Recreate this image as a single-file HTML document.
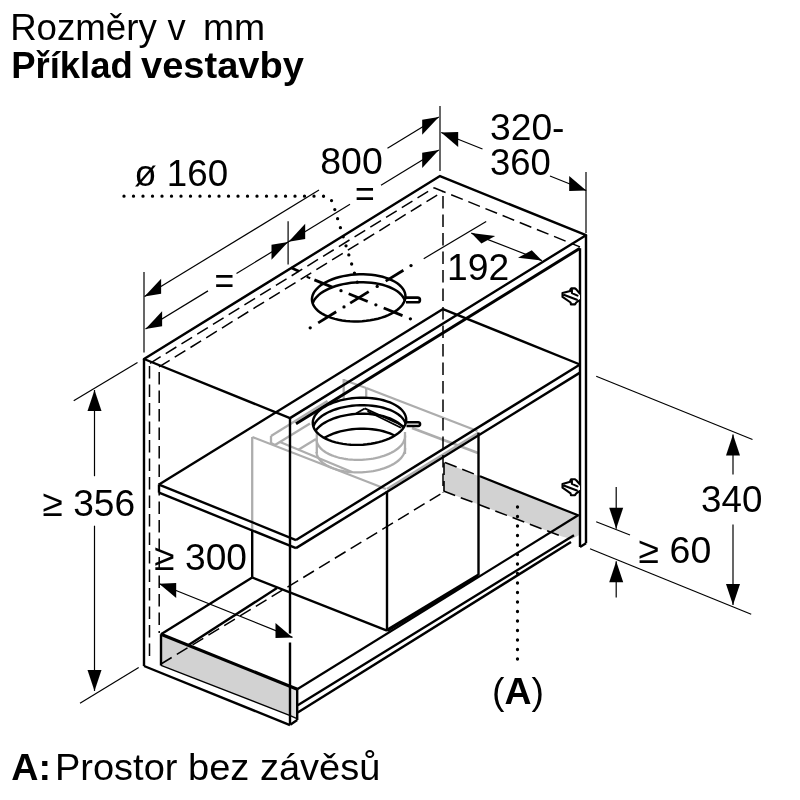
<!DOCTYPE html>
<html lang="cs"><head><meta charset="utf-8"><title>Rozměry v mm</title>
<style>html,body{margin:0;padding:0;background:#fff}svg{display:block;will-change:transform}text{font-family:"Liberation Sans",sans-serif;fill:#000}</style>
</head><body>
<svg width="800" height="800" viewBox="0 0 800 800">
<rect width="800" height="800" fill="#fff"/>
<path d="M161 634.2 L297.3 689.3 L297.3 720 L290.2 715.6 L161 665.3 Z" fill="#d2d2d2"/>
<path d="M290.2 686.5 L297.3 689.3 L297.3 720 L290.2 715.6 Z" fill="#e0e0e0"/>
<path d="M444 462.5 L578.7 515.6 L579.2 535 L572 539 L562 536.5 L443.5 491 Z" fill="#d2d2d2"/>
<path d="M316.52 439.44 L316.63 440.61 L316.87 441.76 L317.22 442.9 L317.69 444.03 L318.29 445.14 L318.99 446.23 L319.82 447.3 L320.75 448.34 L321.8 449.35 L322.95 450.32 L324.21 451.27 L325.56 452.17 L327.01 453.03 L328.56 453.86 L330.19 454.63 L331.91 455.36 L333.71 456.04 L335.58 456.67 L337.52 457.25 L339.52 457.77 L341.58 458.24 L343.7 458.65 L345.86 459 L348.06 459.29 L350.3 459.53 L352.57 459.7 L354.86 459.81 L357.16 459.87 L359.48 459.86 L361.8 459.79 L364.11 459.65 L366.42 459.46 L368.71 459.21 L370.98 458.89 L373.22 458.52 L375.43 458.09 L377.6 457.61 L379.72 457.07 L381.79 456.47 L383.8 455.83 L385.75 455.13 L387.63 454.39 L389.44 453.6 L391.17 452.76 L392.82 451.89 L394.37 450.97 L395.84 450.02 L397.21 449.03 L398.48 448.01 L399.65 446.96 L400.71 445.89 L401.66 444.79 L402.5 443.67 L403.22 442.54 L403.83 441.39 L404.32 440.23 L404.69 439.07 L404.94 437.9 L405.07 436.73 L405.08 435.56" fill="none" stroke="#adadad" stroke-width="2.3"/>
<path d="M316.52 451.94 L316.63 453.11 L316.87 454.26 L317.22 455.4 L317.69 456.53 L318.29 457.64 L318.99 458.73 L319.82 459.8 L320.75 460.84 L321.8 461.85 L322.95 462.82 L324.21 463.77 L325.56 464.67 L327.01 465.53 L328.56 466.36 L330.19 467.13 L331.91 467.86 L333.71 468.54 L335.58 469.17 L337.52 469.75 L339.52 470.27 L341.58 470.74 L343.7 471.15 L345.86 471.5 L348.06 471.79 L350.3 472.03 L352.57 472.2 L354.86 472.31 L357.16 472.37 L359.48 472.36 L361.8 472.29 L364.11 472.15 L366.42 471.96 L368.71 471.71 L370.98 471.39 L373.22 471.02 L375.43 470.59 L377.6 470.11 L379.72 469.57 L381.79 468.97 L383.8 468.33 L385.75 467.63 L387.63 466.89 L389.44 466.1 L391.17 465.26 L392.82 464.39 L394.37 463.47 L395.84 462.52 L397.21 461.53 L398.48 460.51 L399.65 459.46 L400.71 458.39 L401.66 457.29 L402.5 456.17 L403.22 455.04 L403.83 453.89 L404.32 452.73 L404.69 451.57 L404.94 450.4 L405.07 449.23 L405.08 448.06" fill="none" stroke="#adadad" stroke-width="2.3"/>
<line x1="316.8" y1="432" x2="316.8" y2="453" stroke="#adadad" stroke-width="2.3"/>
<line x1="405" y1="432" x2="405" y2="454" stroke="#adadad" stroke-width="2.3"/>
<line x1="252.2" y1="437" x2="252.2" y2="530" stroke="#adadad" stroke-width="2.3"/>
<line x1="252.4" y1="437" x2="386" y2="489" stroke="#adadad" stroke-width="2.3"/>
<line x1="271" y1="436" x2="271" y2="443" stroke="#adadad" stroke-width="2.3"/>
<line x1="271" y1="436" x2="327.5" y2="401" stroke="#adadad" stroke-width="2.3"/>
<line x1="275" y1="445" x2="310" y2="423.5" stroke="#adadad" stroke-width="2.3"/>
<line x1="271" y1="443" x2="275" y2="445" stroke="#adadad" stroke-width="2.3"/>
<line x1="280" y1="442" x2="352" y2="472" stroke="#adadad" stroke-width="2.3"/>
<line x1="298" y1="450" x2="316" y2="439" stroke="#adadad" stroke-width="2.3"/>
<line x1="343.7" y1="379" x2="343.7" y2="400" stroke="#adadad" stroke-width="2.3"/>
<line x1="343.7" y1="380" x2="366.2" y2="388" stroke="#adadad" stroke-width="2.3"/>
<line x1="366.2" y1="388" x2="366.2" y2="407" stroke="#adadad" stroke-width="2.3"/>
<line x1="366.2" y1="388" x2="477.5" y2="431" stroke="#adadad" stroke-width="2.3"/>
<line x1="412" y1="428" x2="478" y2="453" stroke="#adadad" stroke-width="2.8"/>
<line x1="387" y1="489" x2="478" y2="433" stroke="#adadad" stroke-width="2.3"/>
<path d="M144 359 L440 176.07 L586 235.2 L290 418.13 Z" fill="none" stroke="#000" stroke-width="2.4" stroke-linejoin="round"/>
<line x1="144" y1="359" x2="144" y2="666" stroke="#000" stroke-width="2.4"/>
<line x1="144" y1="666" x2="290" y2="725.13" stroke="#000" stroke-width="2.4"/>
<line x1="290" y1="418.13" x2="290" y2="633.5" stroke="#000" stroke-width="2.4"/>
<line x1="290" y1="642.5" x2="290" y2="724" stroke="#000" stroke-width="2.4"/>
<line x1="586" y1="235.2" x2="586" y2="543.2" stroke="#000" stroke-width="2.4"/>
<line x1="580" y1="248.21" x2="580" y2="546.91" stroke="#000" stroke-width="2.4"/>
<line x1="580" y1="546.91" x2="586" y2="543.2" stroke="#000" stroke-width="2.4"/>
<line x1="296" y1="423.72" x2="580" y2="248.21" stroke="#000" stroke-width="3"/>
<line x1="150" y1="363.29" x2="434" y2="187.78" stroke="#000" stroke-width="1.5" stroke-dasharray="12.5 6"/>
<line x1="159" y1="366.94" x2="443" y2="191.43" stroke="#000" stroke-width="1.5" stroke-dasharray="12.5 6"/>
<line x1="434" y1="187.78" x2="580" y2="246.91" stroke="#000" stroke-width="1.5" stroke-dasharray="12.5 6"/>
<line x1="149.5" y1="366" x2="149.5" y2="662" stroke="#000" stroke-width="1.5" stroke-dasharray="12.5 6"/>
<line x1="159.2" y1="372" x2="159.2" y2="633" stroke="#000" stroke-width="1.5" stroke-dasharray="12.5 6"/>
<line x1="443" y1="196" x2="443" y2="492.5" stroke="#000" stroke-width="1.5" stroke-dasharray="12.5 6"/>
<line x1="161" y1="664" x2="443" y2="492.5" stroke="#000" stroke-width="1.5" stroke-dasharray="12.5 6"/>
<line x1="159" y1="484.54" x2="443" y2="309.02" stroke="#000" stroke-width="2.4"/>
<line x1="159" y1="484.54" x2="296" y2="540.02" stroke="#000" stroke-width="2.4"/>
<line x1="159" y1="492.64" x2="296" y2="548.12" stroke="#000" stroke-width="2.4"/>
<line x1="159" y1="484.54" x2="159" y2="492.64" stroke="#000" stroke-width="2.4"/>
<line x1="296" y1="540.02" x2="580" y2="364.51" stroke="#000" stroke-width="2.4"/>
<line x1="296" y1="548.12" x2="580" y2="372.61" stroke="#000" stroke-width="2.4"/>
<line x1="443" y1="309.02" x2="580" y2="364.51" stroke="#000" stroke-width="2.4"/>
<line x1="161" y1="634.2" x2="161" y2="665.5" stroke="#000" stroke-width="2.4"/>
<line x1="161" y1="634.2" x2="297.3" y2="689.3" stroke="#000" stroke-width="3.2"/>
<line x1="161" y1="665.3" x2="290.2" y2="715.6" stroke="#000" stroke-width="1.3"/>
<line x1="290.2" y1="715.6" x2="297" y2="718.6" stroke="#000" stroke-width="1.3"/>
<line x1="297.2" y1="689.3" x2="297.2" y2="720" stroke="#000" stroke-width="2.4"/>
<line x1="290.2" y1="724.7" x2="297.2" y2="720" stroke="#000" stroke-width="2.4"/>
<line x1="297.2" y1="689.3" x2="578.5" y2="515" stroke="#000" stroke-width="2.2"/>
<line x1="297.7" y1="705.3" x2="574" y2="535.2" stroke="#000" stroke-width="2.4"/>
<line x1="297.7" y1="712.4" x2="571" y2="542" stroke="#000" stroke-width="2.4"/>
<line x1="161" y1="634.2" x2="252.2" y2="577.5" stroke="#000" stroke-width="2.4"/>
<line x1="188.5" y1="645" x2="277" y2="588" stroke="#000" stroke-width="2.4"/>
<line x1="252.2" y1="530" x2="252.2" y2="577.5" stroke="#000" stroke-width="2.4"/>
<line x1="252.2" y1="577.5" x2="387" y2="630.7" stroke="#000" stroke-width="2.4"/>
<line x1="387" y1="491" x2="387" y2="630.7" stroke="#000" stroke-width="2.4"/>
<line x1="387" y1="630.5" x2="478.5" y2="575.3" stroke="#000" stroke-width="3.6"/>
<line x1="478.5" y1="432.5" x2="478.5" y2="575.5" stroke="#000" stroke-width="2.4"/>
<line x1="445" y1="462.5" x2="480" y2="476.3" stroke="#000" stroke-width="1.6" stroke-dasharray="12.5 6"/>
<line x1="480" y1="476.3" x2="578.7" y2="515.6" stroke="#000" stroke-width="2.2"/>
<line x1="443.5" y1="491" x2="562" y2="536.5" stroke="#000" stroke-width="1.6" stroke-dasharray="12.5 6"/>
<line x1="444" y1="462.5" x2="444" y2="491" stroke="#000" stroke-width="1.6" stroke-dasharray="12.5 6"/>
<path d="M580 293.75 L576.25 289.4 L575 288.4 L571.25 288.4 L570.3 289.7 L570.3 290.9 L562.5 293.1 L562.5 296.9 L570.6 302.5 L570.9 304.4 L575 304.4 L576.25 302.5 L580 300 M564.4 295 L576.9 299.7 M571.9 290 L571.9 293.1 L577.5 295.6" fill="#fff" stroke="#000" stroke-width="2.1" stroke-linejoin="round" stroke-linecap="round"/>
<path d="M580 484.55 L576.25 480.2 L575 479.2 L571.25 479.2 L570.3 480.5 L570.3 481.7 L562.5 483.9 L562.5 487.7 L570.6 493.3 L570.9 495.2 L575 495.2 L576.25 493.3 L580 490.8 M564.4 485.8 L576.9 490.5 M571.9 480.8 L571.9 483.9 L577.5 486.4" fill="#fff" stroke="#000" stroke-width="2.1" stroke-linejoin="round" stroke-linecap="round"/>
<clipPath id="holeclip"><path d="M389.19 279 L392.16 280.31 L394.88 281.76 L397.32 283.32 L399.47 285 L401.31 286.77 L402.82 288.63 L404 290.56 L404.83 292.55 L405.31 294.57 L405.44 296.62 L405.21 298.68 L404.63 300.74 L403.7 302.77 L402.42 304.76 L400.82 306.7 L398.89 308.57 L396.65 310.37 L394.13 312.06 L391.34 313.65 L388.3 315.12 L385.03 316.46 L381.57 317.65 L377.93 318.7 L374.14 319.58 L370.24 320.3 L366.25 320.85 L362.2 321.23 L358.12 321.43 L354.05 321.44 L350.01 321.28 L346.04 320.94 L342.17 320.42 L338.42 319.74 L334.83 318.88 L331.42 317.87 L328.21 316.7 L325.24 315.39 L322.52 313.94 L320.08 312.38 L317.93 310.7 L316.09 308.93 L314.58 307.07 L313.4 305.14 L312.57 303.15 L312.09 301.13 L311.96 299.08 L312.19 297.02 L312.77 294.96 L313.7 292.93 L314.98 290.94 L316.58 289 L318.51 287.13 L320.75 285.33 L323.27 283.64 L326.06 282.05 L329.1 280.58 L332.37 279.24 L335.83 278.05 L339.47 277 L343.26 276.12 L347.16 275.4 L351.15 274.85 L355.2 274.47 L359.28 274.27 L363.35 274.26 L367.39 274.42 L371.36 274.76 L375.23 275.28 L378.98 275.96 L382.57 276.82 L385.98 277.83 L389.19 279 Z"/></clipPath>
<path d="M405.5 297.6 L417.6 297.6 A2.35 2.35 0 0 1 417.6 302.3 L406 302.3" fill="none" stroke="#000" stroke-width="2.6"/>
<path d="M389.19 279 L392.16 280.31 L394.88 281.76 L397.32 283.32 L399.47 285 L401.31 286.77 L402.82 288.63 L404 290.56 L404.83 292.55 L405.31 294.57 L405.44 296.62 L405.21 298.68 L404.63 300.74 L403.7 302.77 L402.42 304.76 L400.82 306.7 L398.89 308.57 L396.65 310.37 L394.13 312.06 L391.34 313.65 L388.3 315.12 L385.03 316.46 L381.57 317.65 L377.93 318.7 L374.14 319.58 L370.24 320.3 L366.25 320.85 L362.2 321.23 L358.12 321.43 L354.05 321.44 L350.01 321.28 L346.04 320.94 L342.17 320.42 L338.42 319.74 L334.83 318.88 L331.42 317.87 L328.21 316.7 L325.24 315.39 L322.52 313.94 L320.08 312.38 L317.93 310.7 L316.09 308.93 L314.58 307.07 L313.4 305.14 L312.57 303.15 L312.09 301.13 L311.96 299.08 L312.19 297.02 L312.77 294.96 L313.7 292.93 L314.98 290.94 L316.58 289 L318.51 287.13 L320.75 285.33 L323.27 283.64 L326.06 282.05 L329.1 280.58 L332.37 279.24 L335.83 278.05 L339.47 277 L343.26 276.12 L347.16 275.4 L351.15 274.85 L355.2 274.47 L359.28 274.27 L363.35 274.26 L367.39 274.42 L371.36 274.76 L375.23 275.28 L378.98 275.96 L382.57 276.82 L385.98 277.83 L389.19 279 Z" fill="none" stroke="#000" stroke-width="2.5"/>
<path d="M389.19 287 L392.16 288.31 L394.88 289.76 L397.32 291.32 L399.47 293 L401.31 294.77 L402.82 296.63 L404 298.56 L404.83 300.55 L405.31 302.57 L405.44 304.62 L405.21 306.68 L404.63 308.74 L403.7 310.77 L402.42 312.76 L400.82 314.7 L398.89 316.57 L396.65 318.37 L394.13 320.06 L391.34 321.65 L388.3 323.12 L385.03 324.46 L381.57 325.65 L377.93 326.7 L374.14 327.58 L370.24 328.3 L366.25 328.85 L362.2 329.23 L358.12 329.43 L354.05 329.44 L350.01 329.28 L346.04 328.94 L342.17 328.42 L338.42 327.74 L334.83 326.88 L331.42 325.87 L328.21 324.7 L325.24 323.39 L322.52 321.94 L320.08 320.38 L317.93 318.7 L316.09 316.93 L314.58 315.07 L313.4 313.14 L312.57 311.15 L312.09 309.13 L311.96 307.08 L312.19 305.02 L312.77 302.96 L313.7 300.93 L314.98 298.94 L316.58 297 L318.51 295.13 L320.75 293.33 L323.27 291.64 L326.06 290.05 L329.1 288.58 L332.37 287.24 L335.83 286.05 L339.47 285 L343.26 284.12 L347.16 283.4 L351.15 282.85 L355.2 282.47 L359.28 282.27 L363.35 282.26 L367.39 282.42 L371.36 282.76 L375.23 283.28 L378.98 283.96 L382.57 284.82 L385.98 285.83 L389.19 287 Z" fill="none" stroke="#000" stroke-width="2.5" clip-path="url(#holeclip)"/>
<line x1="350.2" y1="303.1" x2="368.7" y2="291.67" stroke="#000" stroke-width="2.8"/>
<line x1="348.7" y1="293.8" x2="367.7" y2="301.5" stroke="#000" stroke-width="2.8"/>
<line x1="318.2" y1="322.88" x2="336.2" y2="311.75" stroke="#000" stroke-width="2.8"/>
<line x1="385.7" y1="281.16" x2="403.4" y2="270.23" stroke="#000" stroke-width="2.8"/>
<line x1="314.4" y1="279.91" x2="332.2" y2="287.12" stroke="#000" stroke-width="2.8"/>
<line x1="383.7" y1="307.98" x2="402.5" y2="315.59" stroke="#000" stroke-width="2.8"/>
<circle cx="310.2" cy="327.82" r="1.65"/>
<circle cx="344" cy="306.93" r="1.65"/>
<circle cx="377.2" cy="286.42" r="1.65"/>
<circle cx="411" cy="265.53" r="1.65"/>
<circle cx="341" cy="290.68" r="1.65"/>
<circle cx="375.9" cy="304.82" r="1.65"/>
<circle cx="410.4" cy="318.79" r="1.65"/>
<line x1="306.7" y1="276.79" x2="310.2" y2="278.21" stroke="#000" stroke-width="2"/>
<line x1="291.2" y1="267.8" x2="298.8" y2="271.2" stroke="#000" stroke-width="2.8"/>
<clipPath id="shelfclip"><path d="M389.99 402.45 L392.96 403.76 L395.68 405.21 L398.12 406.77 L400.27 408.45 L402.11 410.22 L403.62 412.08 L404.8 414.01 L405.63 416 L406.11 418.02 L406.24 420.07 L406.01 422.13 L405.43 424.19 L404.5 426.22 L403.22 428.21 L401.62 430.15 L399.69 432.02 L397.45 433.82 L394.93 435.51 L392.14 437.1 L389.1 438.57 L385.83 439.91 L382.37 441.1 L378.73 442.15 L374.94 443.03 L371.04 443.75 L367.05 444.3 L363 444.68 L358.92 444.88 L354.85 444.89 L350.81 444.73 L346.84 444.39 L342.97 443.87 L339.22 443.19 L335.63 442.33 L332.22 441.32 L329.01 440.15 L326.04 438.84 L323.32 437.39 L320.88 435.83 L318.73 434.15 L316.89 432.38 L315.38 430.52 L314.2 428.59 L313.37 426.6 L312.89 424.58 L312.76 422.53 L312.99 420.47 L313.57 418.41 L314.5 416.38 L315.78 414.39 L317.38 412.45 L319.31 410.58 L321.55 408.78 L324.07 407.09 L326.86 405.5 L329.9 404.03 L333.17 402.69 L336.63 401.5 L340.27 400.45 L344.06 399.57 L347.96 398.85 L351.95 398.3 L356 397.92 L360.08 397.72 L364.15 397.71 L368.19 397.87 L372.16 398.21 L376.03 398.73 L379.78 399.41 L383.37 400.27 L386.78 401.28 L389.99 402.45 Z"/></clipPath>
<path d="M406 422.2 L418.2 422.2 A1.9 1.9 0 0 1 418.2 426 L406.5 426" fill="none" stroke="#000" stroke-width="2.5"/>
<path d="M389.99 402.45 L392.96 403.76 L395.68 405.21 L398.12 406.77 L400.27 408.45 L402.11 410.22 L403.62 412.08 L404.8 414.01 L405.63 416 L406.11 418.02 L406.24 420.07 L406.01 422.13 L405.43 424.19 L404.5 426.22 L403.22 428.21 L401.62 430.15 L399.69 432.02 L397.45 433.82 L394.93 435.51 L392.14 437.1 L389.1 438.57 L385.83 439.91 L382.37 441.1 L378.73 442.15 L374.94 443.03 L371.04 443.75 L367.05 444.3 L363 444.68 L358.92 444.88 L354.85 444.89 L350.81 444.73 L346.84 444.39 L342.97 443.87 L339.22 443.19 L335.63 442.33 L332.22 441.32 L329.01 440.15 L326.04 438.84 L323.32 437.39 L320.88 435.83 L318.73 434.15 L316.89 432.38 L315.38 430.52 L314.2 428.59 L313.37 426.6 L312.89 424.58 L312.76 422.53 L312.99 420.47 L313.57 418.41 L314.5 416.38 L315.78 414.39 L317.38 412.45 L319.31 410.58 L321.55 408.78 L324.07 407.09 L326.86 405.5 L329.9 404.03 L333.17 402.69 L336.63 401.5 L340.27 400.45 L344.06 399.57 L347.96 398.85 L351.95 398.3 L356 397.92 L360.08 397.72 L364.15 397.71 L368.19 397.87 L372.16 398.21 L376.03 398.73 L379.78 399.41 L383.37 400.27 L386.78 401.28 L389.99 402.45 Z" fill="#fff" stroke="none"/>
<path d="M389.99 409.95 L392.96 411.26 L395.68 412.71 L398.12 414.27 L400.27 415.95 L402.11 417.72 L403.62 419.58 L404.8 421.51 L405.63 423.5 L406.11 425.52 L406.24 427.57 L406.01 429.63 L405.43 431.69 L404.5 433.72 L403.22 435.71 L401.62 437.65 L399.69 439.52 L397.45 441.32 L394.93 443.01 L392.14 444.6 L389.1 446.07 L385.83 447.41 L382.37 448.6 L378.73 449.65 L374.94 450.53 L371.04 451.25 L367.05 451.8 L363 452.18 L358.92 452.38 L354.85 452.39 L350.81 452.23 L346.84 451.89 L342.97 451.37 L339.22 450.69 L335.63 449.83 L332.22 448.82 L329.01 447.65 L326.04 446.34 L323.32 444.89 L320.88 443.33 L318.73 441.65 L316.89 439.88 L315.38 438.02 L314.2 436.09 L313.37 434.1 L312.89 432.08 L312.76 430.03 L312.99 427.97 L313.57 425.91 L314.5 423.88 L315.78 421.89 L317.38 419.95 L319.31 418.08 L321.55 416.28 L324.07 414.59 L326.86 413 L329.9 411.53 L333.17 410.19 L336.63 409 L340.27 407.95 L344.06 407.07 L347.96 406.35 L351.95 405.8 L356 405.42 L360.08 405.22 L364.15 405.21 L368.19 405.37 L372.16 405.71 L376.03 406.23 L379.78 406.91 L383.37 407.77 L386.78 408.78 L389.99 409.95 Z" fill="none" stroke="#000" stroke-width="2.4" clip-path="url(#shelfclip)"/>
<path d="M389.99 418.45 L392.96 419.76 L395.68 421.21 L398.12 422.77 L400.27 424.45 L402.11 426.22 L403.62 428.08 L404.8 430.01 L405.63 432 L406.11 434.02 L406.24 436.07 L406.01 438.13 L405.43 440.19 L404.5 442.22 L403.22 444.21 L401.62 446.15 L399.69 448.02 L397.45 449.82 L394.93 451.51 L392.14 453.1 L389.1 454.57 L385.83 455.91 L382.37 457.1 L378.73 458.15 L374.94 459.03 L371.04 459.75 L367.05 460.3 L363 460.68 L358.92 460.88 L354.85 460.89 L350.81 460.73 L346.84 460.39 L342.97 459.87 L339.22 459.19 L335.63 458.33 L332.22 457.32 L329.01 456.15 L326.04 454.84 L323.32 453.39 L320.88 451.83 L318.73 450.15 L316.89 448.38 L315.38 446.52 L314.2 444.59 L313.37 442.6 L312.89 440.58 L312.76 438.53 L312.99 436.47 L313.57 434.41 L314.5 432.38 L315.78 430.39 L317.38 428.45 L319.31 426.58 L321.55 424.78 L324.07 423.09 L326.86 421.5 L329.9 420.03 L333.17 418.69 L336.63 417.5 L340.27 416.45 L344.06 415.57 L347.96 414.85 L351.95 414.3 L356 413.92 L360.08 413.72 L364.15 413.71 L368.19 413.87 L372.16 414.21 L376.03 414.73 L379.78 415.41 L383.37 416.27 L386.78 417.28 L389.99 418.45 Z" fill="none" stroke="#000" stroke-width="2.4" clip-path="url(#shelfclip)"/>
<path d="M389.99 433.45 L392.96 434.76 L395.68 436.21 L398.12 437.77 L400.27 439.45 L402.11 441.22 L403.62 443.08 L404.8 445.01 L405.63 447 L406.11 449.02 L406.24 451.07 L406.01 453.13 L405.43 455.19 L404.5 457.22 L403.22 459.21 L401.62 461.15 L399.69 463.02 L397.45 464.82 L394.93 466.51 L392.14 468.1 L389.1 469.57 L385.83 470.91 L382.37 472.1 L378.73 473.15 L374.94 474.03 L371.04 474.75 L367.05 475.3 L363 475.68 L358.92 475.88 L354.85 475.89 L350.81 475.73 L346.84 475.39 L342.97 474.87 L339.22 474.19 L335.63 473.33 L332.22 472.32 L329.01 471.15 L326.04 469.84 L323.32 468.39 L320.88 466.83 L318.73 465.15 L316.89 463.38 L315.38 461.52 L314.2 459.59 L313.37 457.6 L312.89 455.58 L312.76 453.53 L312.99 451.47 L313.57 449.41 L314.5 447.38 L315.78 445.39 L317.38 443.45 L319.31 441.58 L321.55 439.78 L324.07 438.09 L326.86 436.5 L329.9 435.03 L333.17 433.69 L336.63 432.5 L340.27 431.45 L344.06 430.57 L347.96 429.85 L351.95 429.3 L356 428.92 L360.08 428.72 L364.15 428.71 L368.19 428.87 L372.16 429.21 L376.03 429.73 L379.78 430.41 L383.37 431.27 L386.78 432.28 L389.99 433.45 Z" fill="none" stroke="#000" stroke-width="2.4" clip-path="url(#shelfclip)"/>
<g clip-path="url(#shelfclip)">
<line x1="364.7" y1="408.4" x2="356" y2="413.6" stroke="#000" stroke-width="1.8"/>
<line x1="364.7" y1="408.4" x2="404" y2="426.2" stroke="#000" stroke-width="1.8"/>
<line x1="367.4" y1="411.2" x2="401" y2="427.8" stroke="#000" stroke-width="1.8"/>
</g>
<path d="M389.99 402.45 L392.96 403.76 L395.68 405.21 L398.12 406.77 L400.27 408.45 L402.11 410.22 L403.62 412.08 L404.8 414.01 L405.63 416 L406.11 418.02 L406.24 420.07 L406.01 422.13 L405.43 424.19 L404.5 426.22 L403.22 428.21 L401.62 430.15 L399.69 432.02 L397.45 433.82 L394.93 435.51 L392.14 437.1 L389.1 438.57 L385.83 439.91 L382.37 441.1 L378.73 442.15 L374.94 443.03 L371.04 443.75 L367.05 444.3 L363 444.68 L358.92 444.88 L354.85 444.89 L350.81 444.73 L346.84 444.39 L342.97 443.87 L339.22 443.19 L335.63 442.33 L332.22 441.32 L329.01 440.15 L326.04 438.84 L323.32 437.39 L320.88 435.83 L318.73 434.15 L316.89 432.38 L315.38 430.52 L314.2 428.59 L313.37 426.6 L312.89 424.58 L312.76 422.53 L312.99 420.47 L313.57 418.41 L314.5 416.38 L315.78 414.39 L317.38 412.45 L319.31 410.58 L321.55 408.78 L324.07 407.09 L326.86 405.5 L329.9 404.03 L333.17 402.69 L336.63 401.5 L340.27 400.45 L344.06 399.57 L347.96 398.85 L351.95 398.3 L356 397.92 L360.08 397.72 L364.15 397.71 L368.19 397.87 L372.16 398.21 L376.03 398.73 L379.78 399.41 L383.37 400.27 L386.78 401.28 L389.99 402.45 Z" fill="none" stroke="#000" stroke-width="2.4"/>
<text y="40" font-size="37.5"><tspan x="10.17" textLength="146.59" lengthAdjust="spacingAndGlyphs">Rozměry</tspan> <tspan x="167.6" textLength="18.16" lengthAdjust="spacingAndGlyphs">v</tspan> <tspan x="203.01" textLength="62.22" lengthAdjust="spacingAndGlyphs">mm</tspan></text>
<text y="77.5" font-size="37.5" font-weight="bold"><tspan x="11.15" textLength="121.7" lengthAdjust="spacingAndGlyphs">Příklad</tspan> <tspan x="141" textLength="162.85" lengthAdjust="spacingAndGlyphs">vestavby</tspan></text>
<text x="11.25" y="780" font-size="37.5" font-weight="bold" textLength="39.75" lengthAdjust="spacingAndGlyphs">A:</text>
<text x="54.96" y="780" font-size="37.5" textLength="325.42" lengthAdjust="spacingAndGlyphs">Prostor bez závěsů</text>
<path d="M124 196.2 L323 196.2 Q332 196.5 334 207 L345.3 243.5 L360 291" fill="none" stroke="#000" stroke-width="3.3" stroke-dasharray="0 9.5" stroke-linecap="round"/>
<text x="134.25" y="185.5" font-size="37.5" textLength="93.84" lengthAdjust="spacingAndGlyphs">ø 160</text>
<line x1="144" y1="272" x2="144" y2="352.5" stroke="#000" stroke-width="1.2"/>
<line x1="440" y1="106" x2="440" y2="171" stroke="#000" stroke-width="1.2"/>
<line x1="586" y1="172" x2="586" y2="233" stroke="#000" stroke-width="1.2"/>
<line x1="144.5" y1="296.5" x2="319" y2="190.06" stroke="#000" stroke-width="1.2"/>
<line x1="387.5" y1="148.27" x2="438.8" y2="116.98" stroke="#000" stroke-width="1.2"/>
<path d="M144.5 296.5 L161.1 278.64 L161.1 293.84 Z" fill="#000"/>
<path d="M438.8 116.98 L422.2 119.64 L422.2 134.84 Z" fill="#000"/>
<line x1="145.5" y1="329" x2="208" y2="290.88" stroke="#000" stroke-width="1.2"/>
<line x1="236.5" y1="273.49" x2="350" y2="204.25" stroke="#000" stroke-width="1.2"/>
<line x1="381" y1="185.34" x2="438.8" y2="150.09" stroke="#000" stroke-width="1.2"/>
<path d="M145.5 329 L162.1 311.14 L162.1 326.34 Z" fill="#000"/>
<path d="M438.8 150.09 L422.2 152.75 L422.2 167.95 Z" fill="#000"/>
<path d="M288.1 242.01 L271.5 244.67 L271.5 259.87 Z" fill="#000"/>
<path d="M288.6 241.71 L305.2 223.85 L305.2 239.05 Z" fill="#000"/>
<line x1="288.1" y1="221.2" x2="288.1" y2="264.4" stroke="#000" stroke-width="1.2"/>
<text x="320.25" y="174" font-size="37.5" textLength="62.5" lengthAdjust="spacingAndGlyphs">800</text>
<text x="214.5" y="292.5" font-size="37.5" textLength="19.7" lengthAdjust="spacingAndGlyphs">=</text>
<text x="355.1" y="206" font-size="37.5" textLength="19.7" lengthAdjust="spacingAndGlyphs">=</text>
<line x1="441.2" y1="132.5" x2="482.5" y2="149.02" stroke="#000" stroke-width="1.2"/>
<line x1="550" y1="176.02" x2="586.2" y2="190.5" stroke="#000" stroke-width="1.2"/>
<path d="M441.2 132.5 L458.2 131.88 L458.2 146.88 Z" fill="#000"/>
<path d="M586.2 190.5 L569.2 176.12 L569.2 191.12 Z" fill="#000"/>
<text x="490.01" y="139.5" font-size="37.5" textLength="74.47" lengthAdjust="spacingAndGlyphs">320-</text>
<text x="490.03" y="174.5" font-size="37.5" textLength="60.8" lengthAdjust="spacingAndGlyphs">360</text>
<line x1="423.7" y1="258.7" x2="486.2" y2="221.5" stroke="#000" stroke-width="1.2"/>
<line x1="471.3" y1="233.1" x2="541.9" y2="260.6" stroke="#000" stroke-width="1.2"/>
<path d="M471.3 233.1 L495.2 235.9 L481.4 243.5 Z" fill="#000"/>
<path d="M541.9 260.6 L531.8 250.2 L518 257.8 Z" fill="#000"/>
<text x="447.02" y="279.5" font-size="37.5" textLength="62.08" lengthAdjust="spacingAndGlyphs">192</text>
<line x1="73.7" y1="400.7" x2="137.5" y2="362.5" stroke="#000" stroke-width="1.2"/>
<line x1="80" y1="703.2" x2="138.7" y2="667.5" stroke="#000" stroke-width="1.2"/>
<line x1="94.5" y1="390" x2="94.5" y2="476.2" stroke="#000" stroke-width="1.2"/>
<line x1="94.5" y1="525.7" x2="94.5" y2="691" stroke="#000" stroke-width="1.2"/>
<path d="M94.5 390 L87.5 411 L101.5 411 Z" fill="#000"/>
<path d="M94.5 691 L87.5 670 L101.5 670 Z" fill="#000"/>
<text x="42.51" y="515.5" font-size="37.5" textLength="92.64" lengthAdjust="spacingAndGlyphs">≥ 356</text>
<line x1="159.2" y1="583.7" x2="292.5" y2="637.42" stroke="#000" stroke-width="1.2"/>
<path d="M159.2 583.7 L176.2 583.09 L176.2 598.09 Z" fill="#000"/>
<path d="M292.5 637.42 L275.5 623.03 L275.5 638.03 Z" fill="#000"/>
<text x="154.31" y="569.5" font-size="37.5" textLength="92.64" lengthAdjust="spacingAndGlyphs">≥ 300</text>
<line x1="596.2" y1="376.2" x2="752.5" y2="439.5" stroke="#000" stroke-width="1.2"/>
<line x1="590" y1="548.7" x2="751.2" y2="614.2" stroke="#000" stroke-width="1.2"/>
<line x1="733" y1="434.5" x2="733" y2="474.5" stroke="#000" stroke-width="1.2"/>
<line x1="733" y1="524.5" x2="733" y2="605" stroke="#000" stroke-width="1.2"/>
<path d="M733 434.5 L726 455.5 L740 455.5 Z" fill="#000"/>
<path d="M733 605 L726 584 L740 584 Z" fill="#000"/>
<text x="701.02" y="511.5" font-size="37.5" textLength="61.32" lengthAdjust="spacingAndGlyphs">340</text>
<line x1="596.2" y1="521.7" x2="630" y2="535" stroke="#000" stroke-width="1.2"/>
<line x1="616.2" y1="487" x2="616.2" y2="528.7" stroke="#000" stroke-width="1.2"/>
<line x1="616.2" y1="561.2" x2="616.2" y2="597.5" stroke="#000" stroke-width="1.2"/>
<path d="M616.2 528.7 L609.2 507.7 L623.2 507.7 Z" fill="#000"/>
<path d="M616.2 561.2 L609.2 582.2 L623.2 582.2 Z" fill="#000"/>
<text x="638.6" y="563" font-size="37.5" textLength="72.65" lengthAdjust="spacingAndGlyphs">≥ 60</text>
<line x1="517.5" y1="507" x2="517.5" y2="660" stroke="#000" stroke-width="3.3" stroke-dasharray="0 9.5" stroke-linecap="round"/>
<text x="492.0" y="704" font-size="37.5" textLength="51.98" lengthAdjust="spacingAndGlyphs">(<tspan font-weight="bold">A</tspan>)</text>
</svg>
</body></html>
